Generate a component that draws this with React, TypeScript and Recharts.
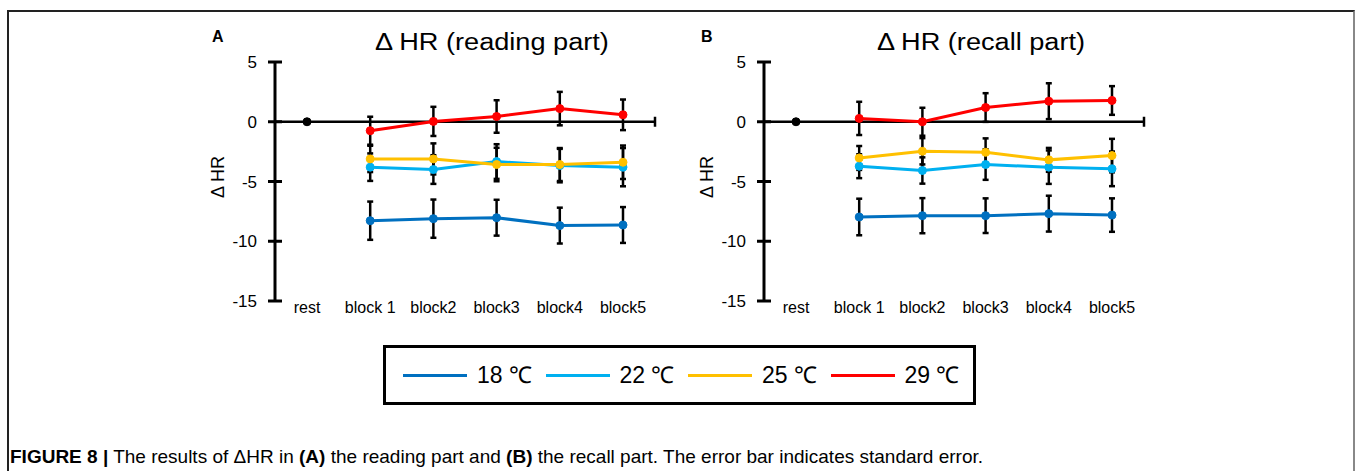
import React from 'react';
import { LineChart, Line, XAxis, YAxis, ErrorBar, ReferenceLine } from 'recharts';

const categories = ['rest', 'block 1', 'block2', 'block3', 'block4', 'block5'];
const restVals = [0, null, null, null, null, null];
const seriesNames = ['18 ℃', '22 ℃', '25 ℃', '29 ℃'];
const seriesColors = ['#0070C0', '#00B0F0', '#FFC000', '#FF0000'];
const yTicks = [-15, -10, -5, 0, 5];

// (A) reading part
const read18 = [null, -8.28, -8.11, -8.03, -8.69, -8.64];
const read18Err = [null, 1.6, 1.6, 1.5, 1.5, 1.5];
const read22 = [null, -3.8, -4.0, -3.33, -3.67, -3.8];
const read22Err = [null, 1.15, 1.2, 1.45, 1.4, 1.6];
const read25 = [null, -3.11, -3.11, -3.58, -3.58, -3.39];
const read25Err = [null, 1.1, 1.3, 1.4, 1.38, 1.4];
const read29 = [null, -0.75, 0.03, 0.44, 1.1, 0.58];
const read29Err = [null, 1.17, 1.22, 1.36, 1.4, 1.28];

// (B) recall part
const recall18 = [null, -7.97, -7.86, -7.86, -7.69, -7.81];
const recall18Err = [null, 1.53, 1.47, 1.45, 1.5, 1.4];
const recall22 = [null, -3.72, -4.08, -3.58, -3.8, -3.94];
const recall22Err = [null, 1.0, 1.1, 1.28, 1.4, 1.45];
const recall25 = [null, -3.03, -2.47, -2.56, -3.19, -2.83];
const recall25Err = [null, 1.0, 1.1, 1.17, 1.0, 1.4];
const recall29 = [null, 0.28, 0.0, 1.19, 1.72, 1.78];
const recall29Err = [null, 1.39, 1.17, 1.2, 1.5, 1.2];

const FONT = '"Liberation Sans", Arial, sans-serif';

function buildRows(vals: (number | null)[][], errs: (number | null)[][]) {
  return categories.map((cat, i) => {
    const row: any = { cat, rest: restVals[i] };
    vals.forEach((v, k) => {
      row['s' + k] = v[i];
      row['e' + k] = errs[k][i];
    });
    return row;
  });
}

const readingRows = buildRows([read18, read22, read25, read29], [read18Err, read22Err, read25Err, read29Err]);
const recallRows = buildRows([recall18, recall22, recall25, recall29], [recall18Err, recall22Err, recall25Err, recall29Err]);

// y tick that crosses the axis line
const YTick = (props: any) => {
  const { x, y, payload } = props;
  return (
    <g>
      <line x1={x + 11} x2={x + 25} y1={y} y2={y} stroke="#000" strokeWidth={3} />
      <text x={x} y={y} dy="0.36em" textAnchor="end" fontSize={17} fill="#000" fontFamily={FONT}>
        {payload.value}
      </text>
    </g>
  );
};

// small tick at the right end of the zero line
const EndTick = (props: any) => {
  const vb = props.viewBox || {};
  const ex = (vb.x || 0) + (vb.width || 0);
  return <line x1={ex} x2={ex} y1={vb.y - 5} y2={vb.y + 5} stroke="#000" strokeWidth={2.5} />;
};

function Panel({ rows, title, letter, left }: { rows: any[]; title: string; letter: string; left: number }) {
  return (
    <>
      <div style={{ position: 'absolute', left: left + 22, top: 29, fontSize: 16, fontWeight: 'bold', lineHeight: 1 }}>
        {letter}
      </div>
      <div
        style={{
          position: 'absolute', left: left + 152, top: 31, width: 300, textAlign: 'center',
          fontSize: 23, lineHeight: 1, transform: 'scaleX(1.18)',
        }}
      >
        {title}
      </div>
      <div
        style={{
          position: 'absolute', left: left - 2, top: 168, width: 60, textAlign: 'center',
          fontSize: 18, lineHeight: 1, transform: 'rotate(-90deg)',
        }}
      >
        Δ HR
      </div>
      <div style={{ position: 'absolute', left: left, top: 20 }}>
        <LineChart width={470} height={311} data={rows} margin={{ top: 42, right: 5, left: 0, bottom: 0 }}>
          <XAxis
            dataKey="cat"
            height={30}
            padding={{ left: 32, right: 32 }}
            axisLine={false}
            tickLine={false}
            tickSize={0}
            tickMargin={1}
            interval={0}
            tick={{ fill: '#000', fontSize: 16, fontFamily: FONT }}
          />
          <YAxis
            width={85}
            domain={[-15, 5]}
            ticks={yTicks}
            interval={0}
            axisLine={{ stroke: '#000', strokeWidth: 3 }}
            tickLine={false}
            tickSize={7}
            tickMargin={11}
            tick={<YTick />}
          />
          <ReferenceLine y={0} stroke="#000" strokeWidth={2.5} label={EndTick} />
          {seriesColors.map((c, k) => (
            <Line
              key={k}
              dataKey={'s' + k}
              name={seriesNames[k]}
              stroke={c}
              strokeWidth={3}
              dot={{ r: 4, fill: c, stroke: c, strokeWidth: 1 }}
              isAnimationActive={false}
            >
              <ErrorBar dataKey={'e' + k} direction="y" width={3} stroke="#000" strokeWidth={2.5} isAnimationActive={false} />
            </Line>
          ))}
          <Line
            dataKey="rest"
            stroke="#000"
            strokeWidth={3}
            dot={{ r: 4, fill: '#000', stroke: '#000', strokeWidth: 1 }}
            isAnimationActive={false}
          />
        </LineChart>
      </div>
    </>
  );
}

export default function App() {
  return (
    <div
      style={{
        position: 'absolute', left: 0, top: 0, width: 1360, height: 471, overflow: 'hidden',
        background: '#fff', fontFamily: FONT, color: '#000',
      }}
    >
      <div
        style={{
          position: 'absolute', left: 7, top: 10, width: 1348, height: 480, boxSizing: 'border-box',
          borderTop: '2px solid #222', borderLeft: '2px solid #222', borderRight: '2px solid #888',
        }}
      />
      <Panel rows={readingRows} title="Δ HR (reading part)" letter="A" left={190} />
      <Panel rows={recallRows} title="Δ HR (recall part)" letter="B" left={679} />
      <div
        style={{
          position: 'absolute', left: 383, top: 345, width: 593, height: 60, boxSizing: 'border-box',
          border: '3px solid #000', display: 'flex', alignItems: 'center', paddingLeft: 17,
        }}
      >
        {seriesNames.map((n, k) => (
          <div key={n} style={{ display: 'flex', alignItems: 'center', width: 143 }}>
            <div style={{ width: 64, height: 3, background: seriesColors[k] }} />
            <div style={{ marginLeft: 10, fontSize: 23, lineHeight: 1 }}>{n}</div>
          </div>
        ))}
      </div>
      <div style={{ position: 'absolute', left: 10, top: 447, fontSize: 19, lineHeight: 1, whiteSpace: 'nowrap' }}>
        <b>FIGURE 8 |</b> The results of ΔHR in <b>(A)</b> the reading part and <b>(B)</b> the recall part. The
        error bar indicates standard error.
      </div>
    </div>
  );
}
